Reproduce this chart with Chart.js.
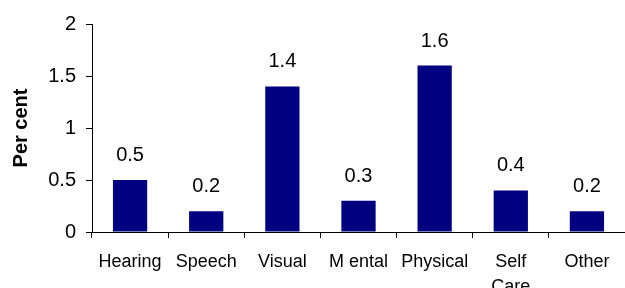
<!DOCTYPE html>
<html>
<head>
<meta charset="utf-8">
<script src="https://cdn.jsdelivr.net/npm/chart.js@4/dist/chart.umd.min.js"></script>
<style>
html,body{margin:0;padding:0;background:#fff;}
#wrap{width:625px;height:288px;position:relative;}
</style>
</head>
<body>
<div id="wrap"><canvas id="c" width="625" height="288"></canvas></div>
<script>
const categories = ['Hearing', 'Speech', 'Visual', 'M ental', 'Physical', ['Self', 'Care'], 'Other'];
const values = [0.5, 0.2, 1.4, 0.3, 1.6, 0.4, 0.2];
const valueLabels = ['0.5', '0.2', '1.4', '0.3', '1.6', '0.4', '0.2'];
const yTicks = [0, 0.5, 1, 1.5, 2];
const yTitle = 'Per cent';

const FONT = "'Liberation Sans', Arial, Helvetica, sans-serif";

const dataLabelPlugin = {
  id: 'dataLabels',
  afterDatasetsDraw(chart) {
    const ctx = chart.ctx;
    const meta = chart.getDatasetMeta(0);
    ctx.save();
    ctx.font = '20px ' + FONT;
    ctx.fillStyle = '#000';
    ctx.textAlign = 'center';
    ctx.textBaseline = 'alphabetic';
    meta.data.forEach((bar, i) => {
      ctx.fillText(valueLabels[i], bar.x, bar.y - 19);
    });
    ctx.restore();
  }
};

new Chart(document.getElementById('c'), {
  type: 'bar',
  data: {
    labels: categories,
    datasets: [{
      data: values,
      backgroundColor: '#000080',
      borderWidth: 0,
      categoryPercentage: 1,
      barPercentage: 0.45
    }]
  },
  options: {
    responsive: false,
    animation: false,
    devicePixelRatio: 1,
    layout: { padding: { top: 24, right: 0, left: 0, bottom: 0 } },
    plugins: { legend: { display: false }, tooltip: { enabled: false } },
    scales: {
      x: {
        offset: true,
        grid: { display: true, drawOnChartArea: false, drawTicks: true, tickLength: 6, color: '#000', offset: true },
        border: { display: true, color: '#000', width: 1 },
        ticks: { color: '#000', font: { family: FONT, size: 18, lineHeight: 1.4 }, padding: 11, maxRotation: 0, autoSkip: false },
        afterFit(scale) { scale.height = 56; }
      },
      y: {
        min: 0, max: 2,
        afterBuildTicks(scale) { scale.ticks = yTicks.map(v => ({ value: v })); },
        grid: { display: true, drawOnChartArea: false, drawTicks: true, tickLength: 6, color: '#000' },
        border: { display: true, color: '#000', width: 1 },
        ticks: { color: '#000', font: { family: FONT, size: 20 }, padding: 10, callback: v => String(v) },
        title: { display: true, text: yTitle, color: '#000', font: { family: FONT, size: 20, weight: 'bold' }, padding: { top: 9, bottom: 0 } },
        afterFit(scale) { scale.width = 92; }
      }
    }
  },
  plugins: [dataLabelPlugin]
});
</script>
</body>
</html>
